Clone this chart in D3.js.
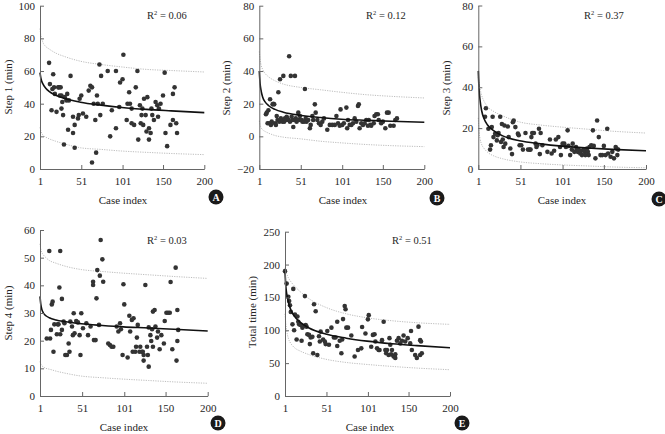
<!DOCTYPE html>
<html><head><meta charset="utf-8">
<script src="https://cdn.jsdelivr.net/npm/d3@7"></script>
<style>
body{margin:0;background:#fff}
svg{display:block}
text{font-family:"Liberation Serif","Times New Roman",serif;fill:#262626}
</style>
</head><body>
<svg id="c" width="665" height="434"></svg>
<script>
// ---------- DATA ----------
const xTicks = [1, 51, 101, 150, 200];
const curveX = [1, 2, 3, 5, 8, 12, 20, 30, 50, 75, 100, 130, 160, 200];

// Panel A: Step 1
const step1Case = [12,13,15,16,17,18,19,21,23,24,25,26,27,27,28,29,30,31,33,34,35,36,38,41,41,43,43,47,48,49,51,53,57,60,62,64,64,66,68,69,70,71,73,74,75,77,83,86,88,93,93,97,98,101,102,106,107,109,110,112,112,115,117,119,120,122,123,124,125,126,127,129,130,131,133,133,135,136,137,139,141,143,144,145,147,150,152,153,155,159,162,162,164,166,167];
const step1Min = [65,52,36,49,58,50,46,35,50,50,45,50,45,37,41,33,15,44,42,46,24,42,57,22,32,27,13,31,33,43,45,34,32,48,51,50,4,40,30,10,45,40,64,33,57,40,60,20,36,25,60,38,53,55,70,30,40,47,40,28,37,27,50,60,18,39,28,33,37,27,43,33,23,44,25,18,22,37,33,30,41,39,32,37,40,45,59,22,14,27,46,30,50,28,22];
const step1Fit   = [59,55.8,53.9,51.6,49.4,47.5,45.2,43.3,40.9,39.1,37.7,36.5,35.6,34.5];
const step1Upper = [86,82,80,77,75,73.5,71,69,66,64,62.5,61,60.3,59.4];
const step1Lower = [25.5,23.5,22,20.5,19.5,18.5,17,15.5,13,12,11,10.2,9.5,8.8];

// Panel B: Step 2
const step2Case = [9,10,11,12,13,14,15,16,17,18,19,20,21,22,23,24,25,26,27,28,29,30,31,32,33,34,35,36,37,38,39,40,41,42,43,44,45,46,47,48,49,50,52,53,55,56,57,58,60,62,63,65,66,68,69,71,73,75,77,79,83,86,89,92,94,96,98,99,101,103,106,107,108,110,112,114,116,118,120,121,122,124,126,128,130,132,133,135,136,139,140,142,144,145,148,150,153,155,157,159,163,165,167];
const step2Min = [13.5,14.5,8,16,8,22.7,7,9,19.6,20,19.6,8,7,12.4,10,27,9,35,11,10,9,37,9,11,10,12,11,10,49,9,37,12,10,5.7,10,37,11,9,10,14.5,10,12.5,10,9,9,29,11,9,10,5,7,12.5,10,19.6,14.5,10,8,7,9,11,4,7,7,7,12.5,8,6.5,16.5,7,8,17.6,5,10,7,7,8,11,9,18.6,19.6,5,8,7,8,10,6.5,10,7,6.5,8,12.5,13.5,13.5,10,8,9,5,14.5,14.5,6.5,6.5,10,11];
const step2Fit   = [40,32,28.5,24.1,21.1,18.9,16.5,14.8,12.9,11.5,10.5,9.8,9.2,8.6];
const step2Upper = [52,47,44,41,38.5,36.5,34,32,30,28.5,27,25.5,24.5,23.5];
const step2Lower = [9.5,7,5.5,4,3,2,0.5,-0.5,-1.5,-3,-4,-5,-5.7,-6.3];

// Panel C: Step 3
const step3Case = [9,10,13,15,16,17,18,19,21,23,24,25,27,28,29,30,31,32,33,36,37,39,41,42,43,45,48,49,50,52,54,57,60,62,63,64,65,67,69,70,71,73,74,75,77,83,86,88,91,93,96,98,99,101,103,105,107,108,110,112,113,115,117,118,119,120,122,123,124,126,127,128,130,131,132,133,135,137,138,140,142,144,146,148,150,152,154,155,158,160,162,164,165,166,167];
const step3Min = [25.6,29.7,19.7,9.5,11.6,20.5,25.6,15.6,17.3,14,16.5,17.6,25.6,13.2,22,14.4,10.8,21.3,12.4,20.8,15.6,10,7.3,22.9,23.7,20.5,17.3,16.5,11.6,11.6,9.5,17.6,9.5,9.5,9.5,15.6,17.6,17.6,12.4,10.8,11.6,19.7,7.3,17.6,11.6,8.4,14.4,7.6,8.9,14.4,15.6,10.8,6.8,12.4,12.4,10.8,18.9,11.3,6.8,9.5,12.4,8.4,10.8,9.5,8.4,9.5,7.6,8.9,6.8,9.5,8.4,6.8,10,8.4,6.8,10.8,11.6,18.9,11.3,5.2,23.7,15.6,6.8,6.8,11.3,6.8,19.7,7.6,6,8.4,5.2,10.8,10,6.8,9.5];
const step3Fit   = [48,38.5,34,28.5,24.5,21.5,18.5,16.2,13.8,12.3,11.2,10.3,9.6,8.9];
const step3Upper = [45,42,39.5,36,33,30.5,28,26,23,21.5,20.5,19.5,18.5,17.6];
const step3Lower = [25,18,15,12,10,8.2,6.3,5,3.5,2.6,2,1.5,1,0.6];

// Panel D: Step 4
const step4Case = [9,12,13,14,15,16,17,18,21,22,23,24,25,25,27,27,29,30,31,33,35,36,37,39,40,41,42,44,46,48,49,50,52,56,58,61,64,64,65,67,68,69,71,72,73,75,76,82,84,86,88,92,94,96,97,99,100,101,105,107,108,110,111,112,114,115,116,117,119,120,122,123,124,124,126,128,129,130,130,132,133,134,135,135,137,138,140,141,143,145,148,149,151,153,155,156,158,162,163,164,164,165];
const step4Min = [20.8,52.4,20.8,23.9,33.1,34.1,16,25.9,22.3,25.9,25.9,39.2,52.4,22.3,35.1,23.9,26.9,26.3,14.8,14.8,19,16,26.9,25.1,22,29.9,22.7,27.1,26.6,22,14.8,29.9,24.5,26.3,22,25.1,41.3,40.1,20.2,20.2,35.3,45.5,25.7,43.5,56.4,49.4,41.3,19,18.4,17.8,17.8,25.1,23.3,26.3,24.1,14.8,40.4,33.1,13.9,29,23.3,27.5,16,28.1,16,17.8,21.1,25.7,16,17.8,16,16,14.8,12.8,40.1,17.8,14.8,24.8,10.6,22,19.9,24.1,17.8,30.5,31.1,25.1,21.1,23.3,16.9,22,19,27.1,30.1,30.1,30.1,41.2,16.9,46.4,12.8,19.9,31.1,23.9];
const step4Fit   = [36,33,31.5,30,29,28.3,27.5,26.9,26.1,25.5,25,24.6,24.1,23.5];
const step4Upper = [55,53,52,51,50,49,48,47,45.7,45,44.4,43.8,43.2,42.5];
const step4Lower = [12.5,11.5,11,10.5,10,9.7,9,8.3,7.2,6.6,6.1,5.6,5.1,4.6];

// Panel E: Total time
const totalCase = [1,3,5,6,7,8,10,11,12,13,15,16,17,18,20,21,22,23,25,26,27,28,30,31,32,34,35,36,38,40,42,43,44,47,49,50,52,54,57,60,62,64,64,67,69,70,71,73,74,75,77,81,85,89,93,94,98,101,102,105,107,109,110,112,114,115,118,120,122,123,124,126,127,128,129,130,132,134,134,136,138,140,142,144,146,149,152,153,154,158,160,162,164,164,165,166];
const totalMin = [190,171,151,144.5,138,128,109,163,100,124,86,121,113,109,108,84,104,106.5,152,108,105.5,94,93,79,89,90,65,139.5,129,62.4,91,83,98,86,83,79,99,78,104,89,89,76,113,84,65,86,117,137,132,104,104,92,60,70,72.5,105,95,116.6,123,75,93,94,83,72.5,70,70,85,113,70,65,70,62.4,88,78,63.4,70,60,63.4,58,84,88,80,84,92,83,88,80,99,70,62.4,58,105.5,85,62.4,83,65];
const totalFit   = [190,167,156,143,131,122,111.5,103.5,94.3,88,83.5,79.6,76.7,73.5];
const totalUpper = [195,190,186,180,174,168,158,148,135,125,119,114.5,111.5,109];
const totalLower = [125,110,100,88,80,74,68,63,56,51,48,45,42.5,40];

const yTitles = ["Step 1 (min)", "Step 2 (min)", "Step 3 (min)", "Step 4 (min)", "Total time (min)"];
const r2Values = ["0.06", "0.12", "0.37", "0.03", "0.51"];
const panelLetters = ["A", "B", "C", "D", "E"];
const yTicksA = [0, 20, 40, 60, 80, 100];
const yTicksB = [-20, 0, 20, 40, 60, 80];
const yTicksC = [0, 20, 40, 60, 80];
const yTicksD = [0, 10, 20, 30, 40, 50, 60];
const yTicksE = [0, 50, 100, 150, 200, 250];

// ---------- LAYOUT ----------
const panels = [
  {xs: step1Case, ys: step1Min, fit: step1Fit, up: step1Upper, lo: step1Lower, yt: yTicksA,
   box: {l: 40, r: 204.3, t: 5.7, b: 169}, ytx: 8, yty: 87, xlx: 123, xly: 204, r2x: 147, r2y: 19, lab: [216, 197]},
  {xs: step2Case, ys: step2Min, fit: step2Fit, up: step2Upper, lo: step2Lower, yt: yTicksB,
   box: {l: 259.3, r: 424.3, t: 5.7, b: 169}, ytx: 226, yty: 88, xlx: 343, xly: 204, r2x: 366, r2y: 19, lab: [437, 198]},
  {xs: step3Case, ys: step3Min, fit: step3Fit, up: step3Upper, lo: step3Lower, yt: yTicksC,
   box: {l: 478.3, r: 646, t: 5.5, b: 169}, ytx: 446, yty: 88, xlx: 562, xly: 204, r2x: 584, r2y: 19, lab: [659, 199]},
  {xs: step4Case, ys: step4Min, fit: step4Fit, up: step4Upper, lo: step4Lower, yt: yTicksD,
   box: {l: 40, r: 207.7, t: 230, b: 396}, ytx: 8, yty: 313, xlx: 124, xly: 431, r2x: 147, r2y: 244, lab: [218, 423]},
  {xs: totalCase, ys: totalMin, fit: totalFit, up: totalUpper, lo: totalLower, yt: yTicksE,
   box: {l: 285, r: 450, t: 231.7, b: 396}, ytx: 252, yty: 312, xlx: 370, xly: 431, r2x: 392, r2y: 244, lab: [462, 423]}
];

const svg = d3.select("#c");

panels.forEach((p, i) => {
  const x = d3.scaleLinear().domain([1, 200]).range([p.box.l, p.box.r]);
  const y = d3.scaleLinear().domain(d3.extent(p.yt)).range([p.box.b, p.box.t]);
  const g = svg.append("g");

  // prediction bands
  const line = d3.line().x((d, k) => x(curveX[k])).y(d => y(d)).curve(d3.curveMonotoneX);
  [p.up, p.lo].forEach(arr => {
    g.append("path").attr("d", line(arr)).attr("fill", "none")
      .attr("stroke", "#b5b5b5").attr("stroke-width", 0.9).attr("stroke-dasharray", "1.2,1.2");
  });

  // points
  g.selectAll("circle.pt").data(p.xs).join("circle").attr("class", "pt")
    .attr("cx", d => x(d)).attr("cy", (d, k) => y(p.ys[k])).attr("r", 2.3).attr("fill", "#333");

  // fit line
  g.append("path").attr("d", line(p.fit)).attr("fill", "none")
    .attr("stroke", "#111").attr("stroke-width", 1.6);

  // axes
  const xa = g.append("g").attr("transform", `translate(0,${p.box.b})`)
    .call(d3.axisBottom(x).tickValues(xTicks).tickSizeInner(-4).tickSizeOuter(0).tickPadding(8));
  const ya = g.append("g").attr("transform", `translate(${p.box.l},0)`)
    .call(d3.axisLeft(y).tickValues(p.yt).tickSizeInner(-4).tickSizeOuter(0).tickPadding(5));
  [xa, ya].forEach(a => {
    a.select(".domain").attr("stroke", "#666").attr("stroke-width", 1);
    a.selectAll(".tick line").attr("stroke", "#666");
    a.selectAll(".tick text").attr("font-family", "Liberation Serif, serif").attr("font-size", 11).attr("fill", "#262626");
  });

  // titles
  g.append("text").attr("transform", `translate(${p.ytx},${p.yty}) rotate(-90)`)
    .attr("text-anchor", "middle").attr("dominant-baseline", "central").attr("font-size", 11).text(yTitles[i]);
  g.append("text").attr("x", p.xlx).attr("y", p.xly).attr("text-anchor", "middle")
    .attr("font-size", 11).text("Case index");

  // R2
  const t = g.append("text").attr("x", p.r2x).attr("y", p.r2y).attr("font-size", 10.5);
  t.append("tspan").text("R");
  t.append("tspan").attr("font-size", 6.5).attr("dy", -4).text("2");
  t.append("tspan").attr("dy", 4).text(" = " + r2Values[i]);

  // panel letter
  g.append("circle").attr("cx", p.lab[0]).attr("cy", p.lab[1]).attr("r", 7.5).attr("fill", "#1a1a1a");
  g.append("text").attr("x", p.lab[0]).attr("y", p.lab[1]).attr("text-anchor", "middle")
    .attr("dominant-baseline", "central").attr("font-family", "Liberation Sans, Arial, sans-serif")
    .attr("font-weight", "bold").attr("font-size", 10).style("fill", "#fff").text(panelLetters[i]);
});
</script>
</body></html>
